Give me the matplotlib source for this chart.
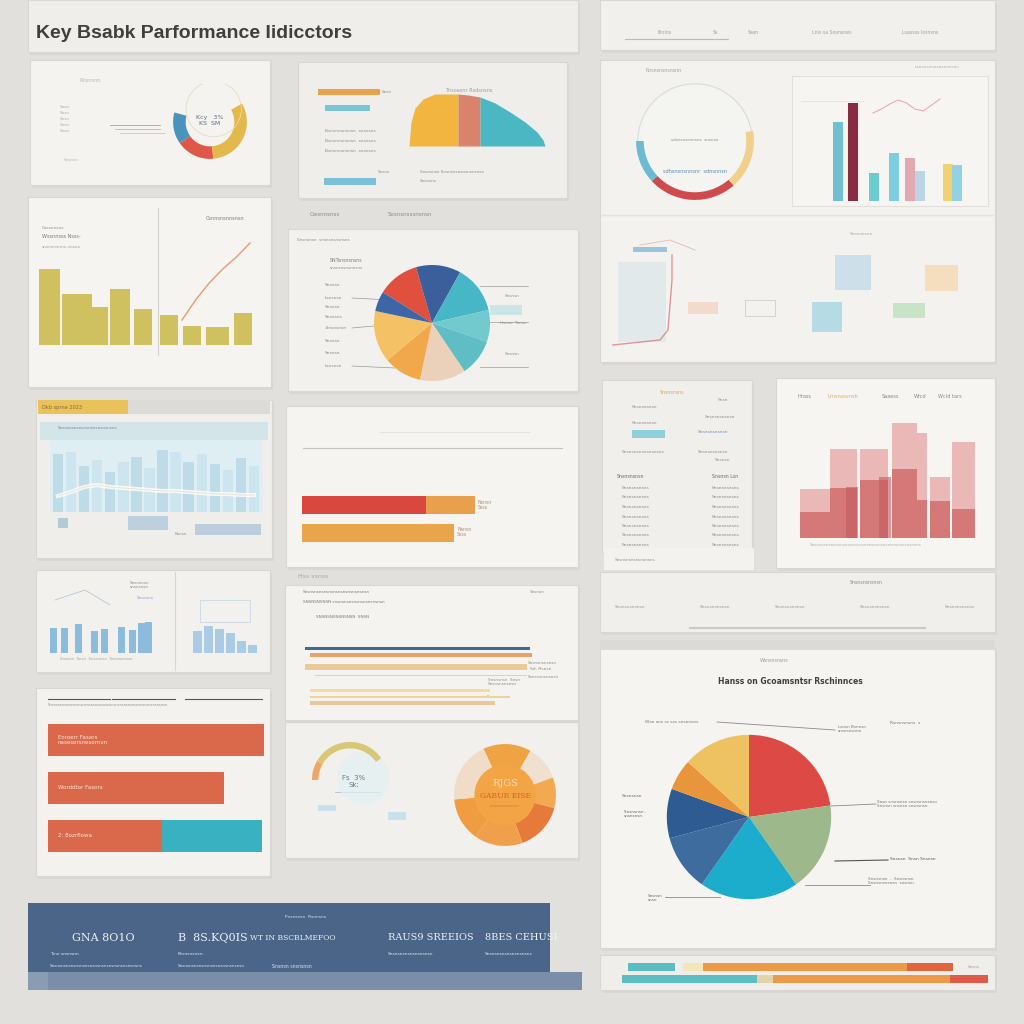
import numpy as np
import matplotlib.pyplot as plt
from matplotlib.patches import Rectangle, Circle

# ---------------- values ----------------
title = "Key Bsabk Parformance Iidicctors"

# small donut, top left (blue, red, yellow, empty)
ringA_vals = [50, 60, 115, 135]
ringA_cols = ['#4a93bd', '#e0574a', '#e3b84c', 'none']

# hump shaped area chart, top middle
humpY_x = [0, 2, 6, 14, 26, 40, 49]
humpY_h = [0, 24, 38, 47, 52, 52, 52]
humpR_x = [49, 59, 71]
humpR_h = [52, 51, 49]
humpT_x = [71, 86, 101, 116, 128, 134, 136]
humpT_h = [49, 43, 34, 24, 14, 6, 0]

# ring, top right
ringC_vals = [43, 88, 59, 170]
ringC_cols = ['#6bbcd2', '#cf4a4f', '#f0d08c', 'none']

# bar chart, top right
barsC_h = [79, 98, 28, 48, 43, 30, 37, 36]
barsC_col = ['#72bfd5', '#8a2b44', '#6ccbd0', '#7ccde0', '#e3a9b1', '#bad5e4', '#f1d171', '#93d2e4']
sparkC = [88, 92, 97, 101, 98, 92, 90, 96, 102]

# olive bars with trend
barsD_h = [76, 51, 51, 38, 56, 36, 30, 19, 18, 32]
trendD_y = [25, 45, 62, 76, 88, 102]

# pie, middle
pieE_vals = [42, 45, 48, 32, 37, 46, 38, 52, 20]
pieE_cols = ['#e1503f', '#3b5f9b', '#47b6c6', '#72c9ce', '#5ebdc5', '#ecd1ba',
             '#f0a84a', '#f4c264', '#3e66a6']

# pale blue chart
barsF_h = [58, 60, 46, 52, 40, 50, 55, 44, 62, 60, 50, 58, 48, 42, 54, 46]
waveF = [16, 20, 25, 27, 25, 24, 23, 22, 21, 21, 20, 19, 18, 18, 17, 17]

# red / orange progress bars
barG1 = [124, 49]
barG2 = [152]

# layered pink bars
barsI_light = [49, 89, 89, 115, 105, 61, 96]
barsI_mid = [26, 50, 58, 69, 38, 37, 29]
barsI_dark = [51, 61]
legendI = ['Hrass', 'Lrnsnssvnsh', 'Saaess', 'Wrcd', 'Wcld tars']

# small blue bars
barsK_h = [25, 25, 29, 22, 24, 26, 23, 30, 31]
barsK2_h = [22, 27, 24, 20, 12, 8]

# orange KPI bars
barsL = [216, 176, 114]
barsL_teal = 100
labelsL = ['Eoroerr Fasars\nnasesersnesornvn', 'Worddtor Fasors', '2: 8ozrflowa']

# thin horizontal bars
linesM = [225, 222, 222, 212, 180, 200, 185]
linesM_col = ['#3d6d8c', '#e9a26c', '#ebc99b', '#d9d1c2', '#f3dba2', '#efd39a', '#eac79a']

# gauges
gaugeN = [30, 115, 215]
donutN_vals = [55, 40, 35, 55, 55, 50, 70]
donutN_cols = ['#f0a343', '#efe0d0', '#f2a950', '#e67a3a', '#f0a04a', '#f09c40', '#f1dcc8']

# big pie
pieO_vals = [82, 63, 70, 40, 35, 22, 48]
pieO_cols = ['#dd4a45', '#9db98b', '#1badcb', '#3f6c9f', '#2f5b93', '#e8953b', '#efc261']

# gradient bars at the bottom right
stripP1 = [47, 8, 20, 204, 46]
stripP2 = [135, 16, 177, 38]

# banner
bannerQ = ['GNA 8O1O', 'B  8S.KQ0IS', 'WT IN BSCBLMEFOO', 'RAUS9 SREEIOS', '8BES CEHUSI']

# ---------------- figure ----------------
fig = plt.figure(figsize=(10.24, 10.24), dpi=100)
fig.patch.set_facecolor('#e2e0dc')
bg = fig.add_axes([0, 0, 1, 1])
bg.set_xlim(0, 1024)
bg.set_ylim(1024, 0)
bg.axis('off')


def panel(x0, y0, x1, y1, fc='#f3f2ee', ec='#d9d7d3'):
    bg.add_patch(Rectangle((x0 + 2, y0 + 3), x1 - x0, y1 - y0, fc='#d3d1cd', ec='none', alpha=0.5))
    bg.add_patch(Rectangle((x0, y0), x1 - x0, y1 - y0, fc=fc, ec=ec, lw=0.8))


def txt(x, y, s, size=3.6, color='#8e8e8e', **kw):
    bg.text(x, y, s, fontsize=size, color=color, va='center', **kw)


def sub(x0, y0, x1, y1):
    a = fig.add_axes([x0 / 1024, 1 - y1 / 1024, (x1 - x0) / 1024, (y1 - y0) / 1024])
    a.axis('off')
    return a


# title bars
panel(28, 0, 578, 52, fc='#efeeea')
txt(36, 34, title, size=14, color='#3f3f3f', fontweight='bold', family='Liberation Sans')
panel(600, 0, 995, 50, fc='#f1f0ec')
for x, s in zip([658, 713, 748, 812, 902], ['Ifinins', 'Ss', 'Sasn', 'Lnis sa Sosnsnes', 'Lsassss Iosnsns']):
    txt(x, 32, s, size=3.4, color='#a0a0a0')
bg.plot([625, 728], [39, 39], color='#bcbcbc', lw=0.8)

# ---- panel A: small donut ----
panel(30, 60, 270, 185, fc='#f4f3ef')
txt(80, 80, 'Rnsnsnn', color='#b8b8b8')
for y in [107, 113, 119, 125, 131]:
    txt(60, y, 'Snsn', size=3, color='#b0b0b0')
bg.plot([110, 160], [125, 125], color='#e08a7a', lw=0.6)
bg.plot([115, 160], [129, 129], color='#c9a0a0', lw=0.5)
bg.plot([120, 165], [133, 133], color='#b0b0c0', lw=0.4)
txt(64, 160, 'Snsnsn', size=3, color='#b8b8b8')
ax = sub(172, 84, 248, 160)
ax.pie(ringA_vals, colors=ringA_cols, startangle=165, counterclock=True,
       wedgeprops=dict(width=0.34, linewidth=0))
ax.add_patch(Circle((0.1, 0.35), 0.75, fill=False, ec='#e8dcb8', lw=0.6))
ax.text(0, 0.05, 'Kcy   3%\nKS  SM', fontsize=4.5, color='#5a6a80', ha='center', va='center')
ax.set_xlim(-1.03, 1.03)
ax.set_ylim(-1.03, 1.03)

# ---- panel B: hump area ----
panel(298, 62, 567, 198, fc='#efeeea')
bg.add_patch(Rectangle((318, 89), 62, 6, fc='#e8a24a', ec='none'))
txt(382, 92, 'Snsn', size=3)
bg.add_patch(Rectangle((325, 105), 45, 6, fc='#7cc4d8', ec='none'))
for y in [131, 141, 151]:
    txt(325, y, 'Bsnsnnsnsnsn  snsnsns', size=3.2)
txt(445, 91, 'Tnsoasnr Rsdsnsns', size=3.6, color='#9c9c9c')
txt(378, 172, 'Snsns', size=3)
txt(420, 172, 'Snsnsnsn Snsnsnsnsnsnsnsnsn', size=3)
txt(420, 181, 'Snsnsns', size=3)
bg.add_patch(Rectangle((324, 178), 52, 7, fc='#7cc0d8', ec='none'))
ax = sub(409, 92, 545, 146)
ax.fill_between(humpY_x, humpY_h, color='#f2b640', lw=0)
ax.fill_between(humpR_x, humpR_h, color='#d9836c', lw=0)
ax.fill_between(humpT_x, humpT_h, color='#4bb7c3', lw=0)
ax.set_xlim(0, 136)
ax.set_ylim(0, 54)

# ---- panel C: ring + bars + sketch ----
panel(600, 60, 995, 362, fc='#f3f2ee')
bg.add_patch(Rectangle((792, 76), 196, 130, fc='#f6f5f2', ec='#e2e0dc', lw=0.8))
bg.plot([602, 993], [215, 215], color='#e4e2de', lw=1)
txt(645, 70, 'Rnsnsnsnsnsnn', size=3.4, color='#a0a0a0')
txt(915, 67, 'Lsnsnsnsnsnsnsnsns', size=3.2, color='#b0b0b0')
ax = sub(634, 80, 756, 202)
ax.add_patch(Circle((0, 0), 0.97, fc='#f4f4f1', ec='#dadada', lw=0.8))
ax.pie(ringC_vals, colors=ringC_cols, startangle=180, counterclock=True,
       wedgeprops=dict(width=0.13, linewidth=0))
ax.text(0, 0.0, 'sdsnsnsnsnsns  snsnsn', fontsize=3, color='#8e8e8e', ha='center')
ax.text(0, -0.55, 'sdhsnsnsnnsnr  sdnsnnsn', fontsize=3.6, color='#5a8ab0', ha='center')
ax.set_xlim(-1.035, 1.035)
ax.set_ylim(-1.035, 1.035)

ax = sub(795, 80, 990, 201)
xs = np.array([43, 58, 79, 99, 115, 125, 153, 162])
ax.bar(xs, barsC_h, width=10, color=barsC_col, lw=0)
ax.plot(np.linspace(78, 145, len(sparkC)), sparkC, color='#e8a0a8', lw=0.7)
ax.axhline(100, xmin=0.03, xmax=0.35, color='#e4dcdc', lw=0.5)
ax.set_xlim(0, 195)
ax.set_ylim(0, 121)

# faint sketch in lower part of panel C
bg.add_patch(Rectangle((618, 262), 48, 80, fc='#b8d6e6', ec='none', alpha=0.3))
bg.plot([613, 660, 668, 672, 672], [345, 340, 330, 280, 255], color='#d25a5a', lw=1, alpha=0.6)
bg.plot([640, 670, 695], [245, 240, 250], color='#e0a0a0', lw=0.6, alpha=0.7)
bg.add_patch(Rectangle((633, 247), 34, 5, fc='#5ea6d4', ec='none', alpha=0.6))
bg.add_patch(Rectangle((688, 302), 30, 12, fc='#f2c0a0', ec='none', alpha=0.45))
bg.add_patch(Rectangle((745, 300), 30, 16, fc='none', ec='#c8c8c8', lw=0.5))
bg.add_patch(Rectangle((835, 255), 36, 35, fc='#a8d0e8', ec='none', alpha=0.5))
bg.add_patch(Rectangle((925, 265), 33, 26, fc='#f6cc90', ec='none', alpha=0.5))
bg.add_patch(Rectangle((812, 302), 30, 30, fc='#7cc6dc', ec='none', alpha=0.5))
bg.add_patch(Rectangle((893, 303), 32, 15, fc='#a8d8a8', ec='none', alpha=0.55))
txt(850, 234, 'Snsnsnsnn', size=3.2, color='#a8a8a8')

# ---- panel D: olive bars ----
panel(28, 197, 271, 387, fc='#f5f4f0')
bg.plot([158, 158], [208, 355], color='#d4d2ce', lw=0.8)
txt(42, 228, 'Csssnnsns', size=3.2, color='#909090')
txt(42, 237, 'Wssnnsss Nsss-', size=3.6, color='#7a7a7a')
txt(42, 247, 'snsnsnsnns-snsns', size=3.2, color='#a0a0a0')
txt(206, 219, 'Csnnsnsnnsnsn', size=3.6, color='#7a7a7a')
ax = sub(36, 200, 262, 345)
xd = np.array([13, 35, 50, 64, 84, 107, 133, 156, 181, 207])
wd = np.array([21, 18, 12, 16, 20, 18, 18, 18, 23, 18])
ax.bar(xd, barsD_h, width=wd, color='#cfc15f', lw=0)
ax.plot(np.linspace(146, 214, len(trendD_y)), trendD_y, color='#e99a6e', lw=1)
ax.set_xlim(0, 226)
ax.set_ylim(0, 145)

# ---- panel E: pie ----
txt(310, 215, 'Cwsnnsnss', size=4, color='#8a8a8a')
txt(388, 215, 'Sosnsnsssnsnsn', size=4, color='#8a8a8a')
panel(288, 229, 578, 391, fc='#f2f1ed')
txt(297, 240, 'Snsnsnsn  snsnsnsnsnsns', size=3)
txt(330, 260, 'SNTsnsnsnsns', size=3.4, color='#7a7a7a')
txt(330, 268, 'snsnsnsnsnnsns', size=3)
for y, s in zip([285, 298, 307, 317, 328, 341, 353, 366],
                ['Snsnsn', 'Lsnsnsn', 'Snsnsn', 'Snsnsns', '-Snsnsnsn', 'Snsnsn', 'Snsnsn', 'Lsnsnsn']):
    txt(325, y, s, size=3.2, color='#8a8a8a')
for y0, y1, x1 in [(298, 300, 390), (328, 325, 385), (366, 368, 395)]:
    bg.plot([352, x1], [y0, y1], color='#9a9a9a', lw=0.5)
for y in [286, 322, 367]:
    bg.plot([480, 528], [y, y], color='#9a9a9a', lw=0.5)
bg.add_patch(Rectangle((490, 305), 32, 10, fc='#a8dce4', ec='none', alpha=0.5))
txt(505, 296, 'Snsnsn', size=3)
txt(500, 323, 'Hsnsn  Tsnss', size=3)
txt(505, 354, 'Snsnsn', size=3)
ax = sub(374, 265, 490, 381)
ax.pie(pieE_vals, colors=pieE_cols, startangle=148, counterclock=False,
       wedgeprops=dict(linewidth=0))
ax.set_xlim(-1.0, 1.0)
ax.set_ylim(-1.0, 1.0)

# ---- panel F: pale blue chart ----
panel(36, 400, 272, 558, fc='#efeeea')
bg.add_patch(Rectangle((38, 400), 232, 14, fc='#dcdbd7', ec='none'))
bg.add_patch(Rectangle((38, 400), 90, 14, fc='#e9c25c', ec='none'))
txt(42, 407, 'Dkb sprne 2023', size=3.6, color='#8a6a30')
bg.add_patch(Rectangle((40, 422), 228, 18, fc='#d4e5ea', ec='none'))
txt(58, 428, 'Snsnsnsnsnsnsnsnsnsnsnsns', size=3, color='#708890')
bg.add_patch(Rectangle((50, 440), 212, 72, fc='#dfeef2', ec='none'))
ax = sub(50, 440, 262, 512)
xf = np.arange(len(barsF_h))
ax.bar(xf, barsF_h, width=0.8, color=['#a8d0e2', '#c2e0ec'] * 8, lw=0, alpha=0.6)
ax.plot(xf, waveF, color='white', lw=3, alpha=0.8)
ax.plot(xf, waveF, color='#f0d8b0', lw=0.6, alpha=0.8)
ax.set_xlim(-0.6, len(barsF_h) - 0.4)
ax.set_ylim(0, 72)
bg.add_patch(Rectangle((58, 518), 10, 10, fc='#8ab4cc', ec='none', alpha=0.6))
bg.add_patch(Rectangle((128, 516), 40, 14, fc='#a8c4d8', ec='none', alpha=0.7))
bg.add_patch(Rectangle((195, 524), 66, 11, fc='#b0c6da', ec='none', alpha=0.8))
txt(175, 534, 'Nsnsn', size=3)

# ---- panel G: progress bars ----
panel(286, 406, 578, 567, fc='#f5f4f0')
bg.plot([303, 562], [448, 448], color='#c4c4c4', lw=0.8)
bg.plot([380, 530], [432, 432], color='#e0e0e0', lw=0.6)
ax = sub(302, 490, 562, 548)
ax.barh(0, barG1[0], height=0.64, color='#d9473e', lw=0)
ax.barh(0, barG1[1], left=barG1[0], height=0.64, color='#e8a04e', lw=0)
ax.barh(1, barG2[0], height=0.64, color='#eaa54a', lw=0)
ax.set_xlim(0, 260)
ax.set_ylim(1.536, -0.536)
txt(478, 505, 'Nsnsn\nSsss', size=3.4, color='#b09070')
txt(457, 532, 'Nsnsn\nSsss', size=3.4, color='#b09070')

# ---- panel H: table ----
panel(602, 380, 752, 552, fc='#f0efeb')
txt(660, 393, 'Snsnsnsns', size=3.4, color='#e0a860')
txt(718, 400, 'Snsn', size=3.2)
txt(632, 407, 'Snsnsnsnsn', size=3.2)
txt(705, 417, 'Snsnsnsnsnsn', size=3.2)
txt(632, 423, 'Snsnsnsnsn', size=3.2)
bg.add_patch(Rectangle((632, 430), 33, 8, fc='#8fd0da', ec='none'))
txt(698, 432, 'Snsnsnsnsnsn', size=3.2, color='#6a90c0')
txt(622, 452, 'Snsnsnsnsnsnsnsns', size=3.2)
txt(698, 452, 'Snsnsnsnsnsn', size=3.2)
txt(715, 460, 'Snsnsn', size=3.2)
txt(617, 476, 'Snsnsnsnsn', size=3.4, color='#6a6a6a')
txt(712, 476, 'Snsnsn Lsn', size=3.4, color='#6a6a6a')
for i in range(7):
    y = 488 + i * 9.5
    txt(622, y, 'Snsnsnsnsns', size=3.2, color='#8a8a8a')
    txt(712, y, 'Snsnsnsnsns', size=3.2, color='#8a8a8a')
bg.add_patch(Rectangle((604, 548), 150, 22, fc='#f3f2ee', ec='none'))
txt(615, 560, 'Snsnsnsnsnsnsnsns', size=3)

# ---- panel I: layered pink bars ----
panel(776, 378, 995, 568, fc='#f6f5f1')
for x, s, c in zip([798, 828, 882, 914, 938], legendI,
                   ['#8a8a8a', '#e8a850', '#8a8a8a', '#8a8a8a', '#8a8a8a']):
    txt(x, 396, s, size=3.6, color=c)
txt(810, 545, 'Snsnsnsnsnsnsnsnsnsnsnsnsnsnsnsnsnsnsnsnsnsnsns', size=3, color='#b0b0b0')
ax = sub(798, 420, 978, 538)
xi = np.array([17, 45.5, 76, 106.5, 124, 142, 165.5])
wi = np.array([30, 27, 28, 25, 10, 20, 23])
ax.bar(xi, barsI_light, width=wi, color='#e9aeac', alpha=0.85, lw=0)
ax.bar(xi, barsI_mid, width=wi, color='#cd6462', alpha=0.75, lw=0)
ax.bar([53.5, 87], barsI_dark, width=12, color='#c45a5e', alpha=0.6, lw=0)
ax.set_xlim(0, 180)
ax.set_ylim(0, 118)

# ---- panel J: strip ----
panel(600, 572, 995, 632, fc='#f0efeb')
txt(850, 582, 'Snsnsnsnsnsn', size=3.4, color='#8a8a8a')
for x in [615, 700, 775, 860, 945]:
    txt(x, 607, 'Snsnsnsnsnsn', size=3.2, color='#9a9a9a')
bg.plot([690, 925], [628, 628], color='#c8c8c8', lw=1.5)

# ---- panel K: small blue bars ----
panel(36, 570, 270, 672, fc='#f2f1ed')
bg.plot([175, 175], [572, 670], color='#d8d6d2', lw=0.8)
txt(130, 585, 'Snsnsnsn\nsnsnsnsn', size=3)
txt(137, 598, 'Snsnsns', size=3, color='#88a8c8')
bg.plot([55, 85, 110], [600, 590, 605], color='#a8c0d8', lw=0.5)
ax = sub(45, 600, 160, 653)
xk = np.array([8, 19, 33, 49, 59, 76, 87, 96, 103])
ax.bar(xk, barsK_h, width=7, color='#8cbcdc', lw=0)
ax.set_xlim(0, 115)
ax.set_ylim(0, 53)
txt(60, 659, 'Snsnsn  Snsn  Snsnsnsn  Snsnsnsnsn', size=2.8, color='#a0a0a0')
ax = sub(192, 600, 258, 653)
ax.bar(np.arange(len(barsK2_h)), barsK2_h, width=0.75, color='#a9cbe6', lw=0)
ax.set_xlim(-0.5, len(barsK2_h) - 0.5)
ax.set_ylim(0, 53)
bg.add_patch(Rectangle((200, 600), 50, 22, fc='none', ec='#c0d4e4', lw=0.5))

# ---- panel L: orange KPI bars ----
panel(36, 688, 270, 876, fc='#f3f2ee')
bg.plot([48, 110], [699, 699], color='#555555', lw=0.8)
bg.plot([112, 175], [699, 699], color='#555555', lw=0.8)
bg.plot([185, 262], [699, 699], color='#555555', lw=0.8)
txt(48, 705, 'Snsnsnsnsnsnsnsnsnsnsnsnsnsnsnsnsnsnsnsnsnsnsnsnsnsnsnsnsn', size=2.6, color='#909090')
ax = sub(48, 718, 265, 856)
ax.barh([0, 1, 2], barsL, height=0.67, color='#d9694a', lw=0)
ax.barh(2, barsL_teal, left=barsL[2], height=0.67, color='#3ab1c1', lw=0)
for i, s in enumerate(labelsL):
    ax.text(10, i, s, fontsize=4, color='#fbe4da', va='center')
ax.set_xlim(0, 217)
ax.set_ylim(2.417, -0.458)

# ---- panel M: thin horizontal bars ----
txt(298, 576, 'Hss ssnss', size=4.5, color='#a8a8a8')
panel(285, 585, 578, 720, fc='#f4f3ef')
txt(303, 592, 'Snsnsnsnsnsnsnsnsnsnsnsnsnsn', size=3, color='#7a7a7a')
txt(303, 602, 'SNSNSNSNSN snsnsnsnsnsnsnsnsnsnsn', size=3, color='#7a7a7a')
txt(316, 617, 'SNSNSNSNSNSNSN  SNSN', size=3, color='#7a7a7a')
txt(530, 592, 'Snsnsn', size=3)
ax = sub(305, 640, 540, 710)
ym = [8, 15, 27, 35, 50, 57, 63]
hm = [3, 4, 6, 1, 3, 2, 4]
lm = [0, 5, 0, 10, 5, 5, 5]
ax.barh(ym, linesM, height=hm, left=lm, color=linesM_col, lw=0)
ax.set_xlim(0, 235)
ax.set_ylim(70, 0)
txt(528, 663, 'Snsnsnsnsnsn', size=3)
txt(530, 669, 'Sd, Rsnsn', size=3.2)
txt(528, 677, 'Ssnsnsnsnsnsn', size=3)
txt(488, 680, 'Snsnsnsn  Snsn', size=3)
txt(488, 684, 'Snsnsnsnsnsn', size=3)
txt(487, 697, 'Snsnsn', size=3)
txt(442, 703, 'Snsnsns', size=3)

# ---- panel N: gauges ----
panel(285, 722, 578, 858, fc='#f1f0ec')
ax = sub(310, 740, 390, 820)
ax.add_patch(Circle((0.35, 0.05), 0.7, fc='#e2f0f4', ec='none', alpha=0.7))
ax.pie(gaugeN, colors=['#f0a668', '#d9c778', 'none'], startangle=180, counterclock=False,
       wedgeprops=dict(width=0.17, linewidth=0))
ax.text(0.1, -0.05, 'Fs  3%\nSk:', fontsize=5, color='#6a7a8a', ha='center', va='center')
ax.set_xlim(-1.05, 1.05)
ax.set_ylim(-1.05, 1.05)
bg.plot([335, 380], [792, 792], color='#a8c0d0', lw=0.6)
bg.add_patch(Rectangle((318, 805), 18, 6, fc='#b8dced', ec='none', alpha=0.7))
bg.add_patch(Rectangle((388, 812), 18, 8, fc='#b8dced', ec='none', alpha=0.7))
ax = sub(452, 742, 558, 848)
ax.pie(donutN_vals, colors=donutN_cols, startangle=115, counterclock=False,
       wedgeprops=dict(width=0.42, linewidth=0))
ax.add_patch(Circle((0, 0), 0.6, fc='#f3a444', ec='none'))
ax.text(0, 0.22, 'RJGS', fontsize=7, color='#f8dcb8', ha='center', va='center', family='DejaVu Serif')
ax.text(0, -0.02, 'GABUR EISE', fontsize=5.5, color='#d8602a', ha='center', va='center', family='DejaVu Serif')
ax.text(0, -0.22, 'snsnsnsnsnsn', fontsize=3.2, color='#e07a3a', ha='center', va='center')
ax.set_xlim(-1.04, 1.04)
ax.set_ylim(-1.04, 1.04)

# ---- panel O: big pie ----
panel(600, 648, 995, 948, fc='#f5f4f0')
bg.add_patch(Rectangle((600, 640), 395, 10, fc='#dcdad6', ec='none'))
txt(760, 661, 'Wsnsnsnsns', size=3.4, color='#9a9a9a')
txt(790, 681, 'Hanss on Gcoamsntsr Rschinnces', size=5.5, color='#404040', ha='center',
    fontweight='bold')
txt(645, 722, 'Wsn sns ss sss snsnnsns', size=3.2, color='#7a7a7a')
bg.plot([717, 835], [722, 730], color='#8a8a8a', lw=0.6)
txt(838, 729, 'Lsnsn Bsnnsn\nsnsnsnsnnn', size=3, color='#7a7a7a')
txt(890, 723, 'Rsnsnsnsns  s', size=3.2, color='#7a7a7a')
txt(622, 796, 'Snsnsnsn', size=3.2, color='#6a6a6a')
txt(624, 814, 'Snsnsnsn -\nsnsnsnsn', size=3, color='#6a6a6a')
bg.plot([831, 876], [806, 804], color='#8a8a8a', lw=0.6)
txt(877, 804, 'Snsn snsnsnsn snsnsnsnsnsn\nSnsnsn snsnsn snsnsnsn', size=3, color='#7a7a7a')
bg.plot([835, 888], [861, 860], color='#555555', lw=0.8)
txt(890, 859, 'Snsnsn  Snsn Snsnsn', size=3.2, color='#5a5a5a')
bg.plot([805, 870], [885, 885], color='#8a8a8a', lw=0.6)
txt(868, 881, 'Snsnsnsn  -  Snsnsnsn\nSnsnsnsnsnsn  snsnsn', size=3, color='#7a7a7a')
bg.plot([665, 720], [897, 897], color='#8a8a8a', lw=0.6)
txt(648, 898, 'Snsnsn\nsnsn', size=3, color='#6a6a6a')
ax = sub(666, 734, 832, 900)
ax.pie(pieO_vals, colors=pieO_cols, startangle=90, counterclock=False,
       wedgeprops=dict(linewidth=0))
ax.set_xlim(-1.01, 1.01)
ax.set_ylim(-1.01, 1.01)

# ---- panel P: gradient bars ----
panel(600, 955, 995, 990, fc='#efeeea')
ax = sub(610, 961, 990, 985)
colsP1 = ['#5cbcc4', 'none', '#f4e6b8', '#ec9a48', '#e0643c']
left = 18
for w, c in zip(stripP1, colsP1):
    ax.barh(0, w, left=left, height=0.65, color=c, lw=0)
    left += w
colsP2 = ['#5ebdc2', '#e0d4a8', '#ec9a4a', '#e05a4a']
left = 12
for w, c in zip(stripP2, colsP2):
    ax.barh(1, w, left=left, height=0.65, color=c, lw=0)
    left += w
ax.set_xlim(0, 380)
ax.set_ylim(1.5, -0.5)
txt(968, 967, 'Snsns', size=3, color='#a0a0a0')

# ---- panel Q: banner ----
bg.add_patch(Rectangle((28, 903), 522, 87, fc='#4a6588', ec='none'))
bg.add_patch(Rectangle((48, 972), 534, 18, fc='#7a8ea8', ec='none'))
bg.add_patch(Rectangle((28, 972), 20, 18, fc='#8a9cb2', ec='none'))
txt(285, 917, 'Pnsnsnsn  Rsnnsns', size=3.2, color='#d8e0ea')
for x, s, fs in zip([72, 178, 250, 388, 485], bannerQ, [8, 8, 5.5, 7, 7]):
    txt(x, 938, s, size=fs, color='#eef2f6', family='DejaVu Serif')
for x, s in zip([50, 178, 388, 485], ['Tsne snsnsnn', 'Pnsnsnsnsn:', 'Snsnsnsnsnsnsnsnsn', 'Snsnsnsnsnsnsnsnsns']):
    txt(x, 954, s, size=3.2, color='#dfe6ee')
txt(50, 966, 'Snsnsnsnsnsnsnsnsnsnsnsnsnsnsnsnsnsnsns', size=3, color='#dfe6ee')
txt(178, 966, 'Snsnsnsnsnsnsnsnsnsnsnsnsnsn', size=3, color='#dfe6ee')
txt(272, 966, 'Snsnsn snsnsnsn', size=3.4, color='#dfe6ee')

fig.savefig('out.png', dpi=100, facecolor=fig.get_facecolor())
